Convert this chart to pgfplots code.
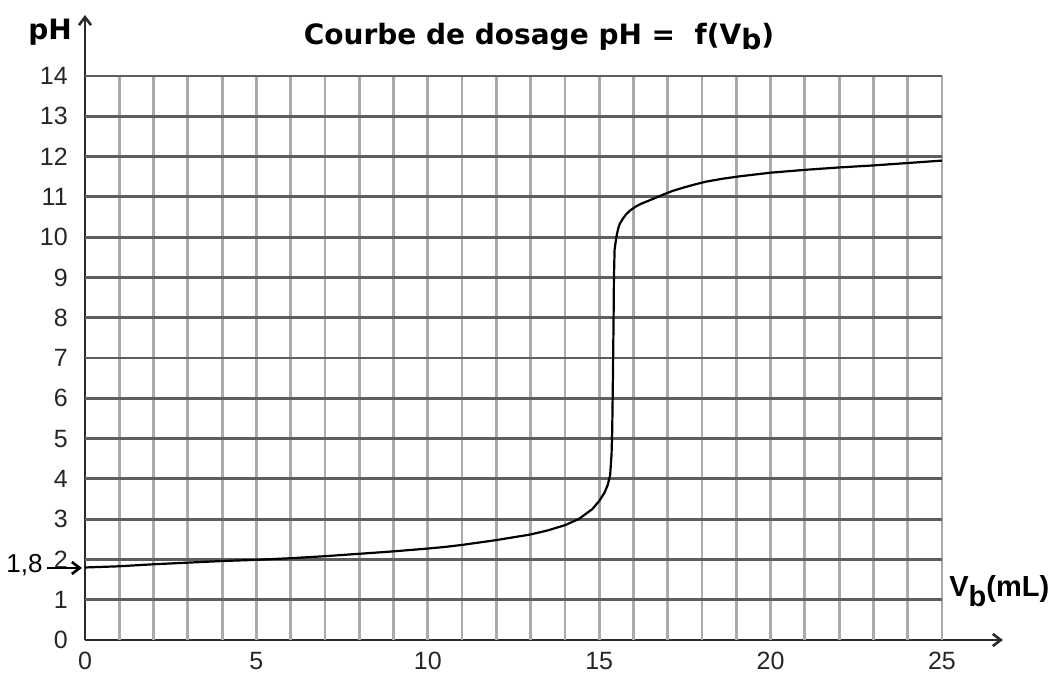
\documentclass[border=0pt]{standalone}
\usepackage{fontspec}
\setmainfont{Liberation Sans}
\newfontfamily\titlefont{DejaVu Sans}
\usepackage{pgfplots}
\pgfplotsset{compat=1.18}
\usetikzlibrary{arrows.meta}
\definecolor{gridh}{HTML}{5E5E5E}
\definecolor{gridv}{HTML}{ABABAB}
\definecolor{axcol}{HTML}{2A2A2A}
\begin{document}
\begin{tikzpicture}[x=1pt,y=1pt]
\begin{axis}[
  at={(0,0)}, anchor=south west,
  scale only axis, width=428.5pt, height=282pt,
  xmin=0, xmax=25, ymin=0, ymax=14,
  axis lines=left,
  x axis line style={draw=axcol, line width=1.3pt, -{Straight Barb[length=4pt,width=6pt]}, shorten >=-30.5pt},
  y axis line style={draw=axcol, line width=1.3pt, -{Straight Barb[length=4pt,width=6pt]}, shorten >=-30.5pt},
  xtick={0,5,...,25}, ytick={0,1,...,14},
  tick style={draw=none},
  /pgf/number format/assume math mode=true,
  ticklabel style={font=\fontsize{12.5}{14}\selectfont, text=black!85},
  xticklabel style={yshift=-0.5pt},
  yticklabel style={xshift=-3pt},
  clip=false,
]
\pgfplotsinvokeforeach{1,...,25}{\draw[gridv, line width=1.4pt] (axis cs:#1,0) -- (axis cs:#1,14);}
\pgfplotsinvokeforeach{1,...,14}{\draw[gridh, line width=1.4pt] (axis cs:0,#1) -- (axis cs:25,#1);}
\addplot[black, line width=1.1pt, mark=none] coordinates {
(0,1.80) (1,1.83) (2,1.88) (3,1.92) (4,1.96) (5,1.99) (6,2.03) (7,2.08)
(8,2.14) (9,2.20) (10,2.27) (10.5,2.31) (11,2.36) (11.5,2.42) (12,2.48) (12.5,2.55)
(13,2.62) (13.5,2.72) (14,2.85) (14.4,3.0) (14.8,3.25) (15.0,3.45)
(15.15,3.65) (15.25,3.85) (15.32,4.1) (15.36,4.6) (15.38,5.2) (15.40,6.5)
(15.42,8.0) (15.43,9.0) (15.45,9.7) (15.5,10.0) (15.55,10.2) (15.6,10.33)
(15.7,10.47) (15.8,10.58) (15.9,10.66) (16.05,10.75) (16.2,10.82) (16.4,10.89)
(16.6,10.96) (16.85,11.05) (17.15,11.15) (17.5,11.24) (17.8,11.31) (18.13,11.38)
(18.6,11.45) (19.1,11.51) (20,11.60) (21,11.67) (22,11.73) (23,11.78)
(24,11.84) (25,11.90)
};
\end{axis}
\draw[black, line width=1.3pt, -{Straight Barb[length=4pt,width=6pt]}] (-19,36) -- (-1.5,36);
\node[anchor=base east, inner sep=0pt, font=\fontsize{13}{15}\selectfont] at (-21,33.5) {1,8};
\node[font=\titlefont\bfseries\fontsize{14}{16}\selectfont] at (227,301.5) {Courbe de dosage pH =\ \ f(V\raisebox{-0.35ex}{b})};
\node[font=\titlefont\bfseries\fontsize{14}{16}\selectfont] at (-17.5,304) {pH};
\node[anchor=base west, inner sep=0pt, font=\bfseries\fontsize{14.5}{16}\selectfont] at (432,21.5) {V\raisebox{-0.6ex}{b}(mL)};
\pgfresetboundingbox
\path[use as bounding box] (-42.5,-17.5) rectangle (485.5,320);
\end{tikzpicture}
\end{document}
